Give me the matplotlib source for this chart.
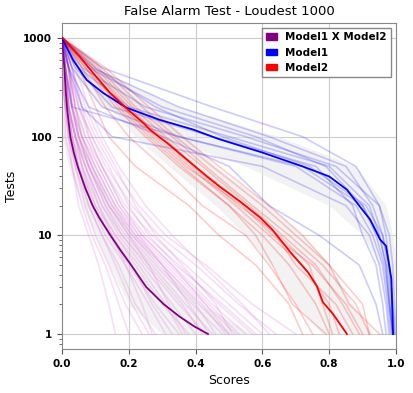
import matplotlib
matplotlib.use("Agg")
import matplotlib.pyplot as plt
import matplotlib.patches as mpatches
from matplotlib.ticker import FixedLocator, FixedFormatter, LogLocator, NullFormatter

# number of tests levels at which faint runs are sampled
levels = [1000, 500, 200, 100, 50, 20, 10, 5, 2, 1]

# Model1 X Model2 (purple) - mean curve
both_tests = [1000, 700, 500, 300, 200, 150, 100, 70, 50, 30, 20, 15, 10, 7, 5, 3, 2, 1.5, 1.2, 1]
both_scores = [0.0, 0.004, 0.007, 0.011, 0.015, 0.019, 0.025, 0.035, 0.047, 0.070, 0.092, 0.112, 0.145, 0.176, 0.207, 0.252, 0.305, 0.352, 0.395, 0.437]

# Model1 (blue) - mean curve
m1_tests = [1000, 955, 600, 376, 278, 196, 148, 118, 95, 69, 50, 39.5, 29, 19.5, 14.5, 11.5, 9.1, 7.8, 3.6, 1]
m1_scores = [0.0, 0.003, 0.033, 0.074, 0.123, 0.194, 0.293, 0.393, 0.468, 0.600, 0.720, 0.800, 0.853, 0.892, 0.922, 0.937, 0.952, 0.970, 0.986, 0.991]

# Model2 (red) - mean curve
m2_tests = [1000, 643, 443, 278, 187, 138, 118, 98, 87, 58.5, 39.5, 31, 22, 15.2, 11.5, 6.8, 4.2, 3.06, 2.1, 1.6, 1]
m2_scores = [0.003, 0.054, 0.093, 0.144, 0.198, 0.243, 0.263, 0.293, 0.314, 0.374, 0.434, 0.473, 0.533, 0.593, 0.629, 0.683, 0.737, 0.763, 0.781, 0.811, 0.853]

# spread bands (low / high score at each level)
both_lo = [0.0, 0.0, 0.0, 0.0, 0.02, 0.06, 0.10, 0.14, 0.20, 0.30]
both_hi = [0.005, 0.02, 0.04, 0.06, 0.10, 0.16, 0.22, 0.29, 0.42, 0.57]
m1_lo = [0.0, 0.02, 0.12, 0.30, 0.55, 0.80, 0.90, 0.95, 0.97, 0.97]
m1_hi = [0.02, 0.10, 0.35, 0.65, 0.88, 0.97, 0.99, 1.0, 1.0, 1.0]
m2_lo = [0.0, 0.05, 0.14, 0.22, 0.32, 0.46, 0.55, 0.63, 0.70, 0.78]
m2_hi = [0.02, 0.12, 0.25, 0.37, 0.46, 0.62, 0.72, 0.80, 0.87, 0.93]

# individual runs, scores at each level
m1_runs = [
    [0.0, 0.12, 0.45, 0.72, 0.88, 0.95, 0.97, 0.98, 0.99, 0.995],
    [0.0, 0.09, 0.35, 0.62, 0.85, 0.93, 0.96, 0.975, 0.985, 0.99],
    [0.0, 0.05, 0.20, 0.50, 0.80, 0.92, 0.95, 0.97, 0.98, 0.99],
    [0.0, 0.03, 0.12, 0.35, 0.70, 0.88, 0.93, 0.96, 0.975, 0.985],
    [0.0, 0.02, 0.06, 0.15, 0.60, 0.85, 0.92, 0.95, 0.97, 0.98],
    [0.0, 0.01, 0.03, 0.35, 0.72, 0.90, 0.95, 0.97, 0.98, 0.99],
    [0.0, 0.04, 0.15, 0.45, 0.76, 0.87, 0.90, 0.94, 0.96, 0.97],
    [0.0, 0.06, 0.25, 0.55, 0.82, 0.95, 0.98, 0.99, 0.995, 1.0],
    [0.0, 0.02, 0.08, 0.30, 0.50, 0.62, 0.77, 0.89, 0.94, 0.96],
    [0.0, 0.08, 0.30, 0.58, 0.79, 0.90, 0.94, 0.965, 0.98, 0.99],
    [0.0, 0.10, 0.28, 0.48, 0.74, 0.91, 0.96, 0.98, 0.99, 0.995],
]
m2_runs = [
    [0.0, 0.05, 0.10, 0.14, 0.22, 0.38, 0.47, 0.58, 0.68, 0.72],
    [0.0, 0.06, 0.13, 0.20, 0.30, 0.42, 0.55, 0.62, 0.70, 0.75],
    [0.0, 0.07, 0.16, 0.25, 0.35, 0.50, 0.60, 0.68, 0.76, 0.80],
    [0.0, 0.08, 0.18, 0.28, 0.38, 0.52, 0.62, 0.72, 0.80, 0.83],
    [0.0, 0.09, 0.19, 0.30, 0.40, 0.55, 0.64, 0.70, 0.82, 0.87],
    [0.0, 0.10, 0.21, 0.31, 0.42, 0.56, 0.66, 0.76, 0.84, 0.89],
    [0.0, 0.11, 0.22, 0.33, 0.43, 0.57, 0.68, 0.78, 0.88, 0.92],
    [0.0, 0.12, 0.24, 0.34, 0.45, 0.60, 0.70, 0.80, 0.86, 0.95],
    [0.0, 0.13, 0.26, 0.36, 0.47, 0.62, 0.72, 0.80, 0.90, 0.92],
    [0.0, 0.08, 0.17, 0.26, 0.36, 0.50, 0.58, 0.63, 0.69, 0.79],
    [0.0, 0.09, 0.20, 0.29, 0.39, 0.53, 0.65, 0.74, 0.78, 0.81],
    [0.0, 0.07, 0.18, 0.27, 0.37, 0.54, 0.63, 0.75, 0.85, 0.90],
]
both_runs = [
    [0, 0.00, 0.01, 0.02, 0.03, 0.05, 0.08, 0.11, 0.14, 0.16],
    [0, 0.00, 0.01, 0.02, 0.04, 0.07, 0.10, 0.14, 0.19, 0.24],
    [0, 0.01, 0.01, 0.03, 0.05, 0.08, 0.12, 0.17, 0.22, 0.28],
    [0, 0.01, 0.02, 0.03, 0.06, 0.09, 0.13, 0.19, 0.26, 0.31],
    [0, 0.01, 0.02, 0.04, 0.06, 0.10, 0.14, 0.20, 0.28, 0.35],
    [0, 0.01, 0.02, 0.04, 0.07, 0.11, 0.16, 0.22, 0.30, 0.38],
    [0, 0.01, 0.02, 0.04, 0.07, 0.12, 0.17, 0.24, 0.33, 0.40],
    [0, 0.01, 0.03, 0.05, 0.08, 0.13, 0.18, 0.25, 0.35, 0.43],
    [0, 0.01, 0.03, 0.05, 0.08, 0.13, 0.19, 0.27, 0.37, 0.45],
    [0, 0.01, 0.03, 0.05, 0.09, 0.14, 0.20, 0.28, 0.39, 0.48],
    [0, 0.02, 0.03, 0.06, 0.09, 0.15, 0.21, 0.30, 0.41, 0.50],
    [0, 0.02, 0.04, 0.06, 0.10, 0.16, 0.22, 0.31, 0.43, 0.52],
    [0, 0.02, 0.04, 0.07, 0.11, 0.17, 0.24, 0.33, 0.45, 0.55],
    [0, 0.02, 0.04, 0.07, 0.12, 0.18, 0.25, 0.35, 0.47, 0.57],
    [0, 0.02, 0.05, 0.08, 0.12, 0.19, 0.27, 0.37, 0.50, 0.60],
    [0, 0.03, 0.05, 0.09, 0.13, 0.21, 0.29, 0.40, 0.53, 0.64],
    [0, 0.03, 0.06, 0.10, 0.15, 0.23, 0.31, 0.43, 0.57, 0.70],
    [0, 0.00, 0.01, 0.02, 0.04, 0.08, 0.12, 0.16, 0.21, 0.26],
    [0, 0.01, 0.02, 0.03, 0.05, 0.09, 0.15, 0.21, 0.27, 0.33],
    [0, 0.01, 0.02, 0.04, 0.07, 0.12, 0.18, 0.26, 0.36, 0.42],
    [0, 0.01, 0.03, 0.05, 0.08, 0.14, 0.21, 0.29, 0.40, 0.46],
    [0, 0.02, 0.04, 0.06, 0.10, 0.16, 0.23, 0.32, 0.44, 0.53],
    [0, 0.02, 0.03, 0.06, 0.11, 0.17, 0.23, 0.30, 0.38, 0.44],
    [0, 0.01, 0.02, 0.04, 0.08, 0.14, 0.20, 0.26, 0.32, 0.37],
    [0, 0.03, 0.07, 0.11, 0.16, 0.22, 0.28, 0.36, 0.46, 0.51],
    [0, 0.04, 0.08, 0.12, 0.17, 0.25, 0.33, 0.42, 0.54, 0.62],
    [0, 0.01, 0.02, 0.03, 0.05, 0.10, 0.16, 0.23, 0.31, 0.36],
    [0, 0.02, 0.03, 0.05, 0.09, 0.15, 0.22, 0.30, 0.42, 0.49],
    [0, 0.01, 0.02, 0.04, 0.06, 0.11, 0.15, 0.19, 0.24, 0.27],
    [0, 0.02, 0.05, 0.09, 0.14, 0.20, 0.26, 0.34, 0.48, 0.58],
    [0, 0.00, 0.01, 0.01, 0.03, 0.06, 0.09, 0.13, 0.17, 0.20],
    [0, 0.03, 0.06, 0.08, 0.12, 0.18, 0.24, 0.33, 0.43, 0.50],
]

legend_names = ["Model1 X Model2", "Model1", "Model2"]
y_ticks = [1, 10, 100, 1000]
y_tick_labels = ["1", "10", "100", "1000"]


fig, ax = plt.subplots(figsize=(4.13, 3.93), dpi=100)
fig.subplots_adjust(left=0.150, right=0.959, top=0.9415, bottom=0.112)

# spread bands
ax.fill_betweenx(levels, both_lo, both_hi, color='#e6e6e6', alpha=0.5, lw=0, zorder=1)
ax.fill_betweenx(levels, m1_lo, m1_hi, color='#e6e6e6', alpha=0.5, lw=0, zorder=1)
ax.fill_betweenx(levels, m2_lo, m2_hi, color='#e6e6e6', alpha=0.5, lw=0, zorder=1)

# faint individual runs
for run in both_runs:
    ax.plot(run, levels, color='orchid', alpha=0.22, lw=1.2, zorder=2)
for run in m1_runs:
    ax.plot(run, levels, color='blue', alpha=0.2, lw=1.2, zorder=2)
for run in m2_runs:
    ax.plot(run, levels, color='red', alpha=0.2, lw=1.2, zorder=2)

# mean curves
ax.plot(both_scores, both_tests, color='purple', lw=1.3, zorder=4)
ax.plot(m1_scores, m1_tests, color='blue', lw=1.3, zorder=4)
ax.plot(m2_scores, m2_tests, color='red', lw=1.3, zorder=4)

ax.set_yscale('log')
ax.set_xlim(0, 1)
ax.set_ylim(0.705, 1420)
ax.yaxis.set_major_locator(FixedLocator(y_ticks))
ax.yaxis.set_major_formatter(FixedFormatter(y_tick_labels))
ax.yaxis.set_minor_locator(LogLocator(base=10, subs=range(2, 10)))
ax.yaxis.set_minor_formatter(NullFormatter())
ax.grid(True, which='major', color='#cccccc', lw=0.8, zorder=0)
ax.set_axisbelow(True)

for lab in ax.get_xticklabels() + ax.get_yticklabels():
    lab.set_fontweight('bold')
    lab.set_fontsize(7.5)
ax.tick_params(axis='both', which='both', color='#555555')
for sp in ax.spines.values():
    sp.set_color('#888888')

ax.set_xlabel('Scores', fontsize=9)
ax.set_ylabel('Tests', fontsize=9)
ax.set_title('False Alarm Test - Loudest 1000', fontsize=9.5)

handles = [mpatches.Patch(color=c, label=n) for c, n in zip(['purple', 'blue', 'red'], legend_names)]
leg = ax.legend(handles=handles, loc='upper right', prop={'weight': 'bold', 'size': 7.5},
                fancybox=False, framealpha=1, edgecolor='#888888',
                handlelength=1.0, handleheight=0.6)

plt.savefig('out.png', dpi=100)
